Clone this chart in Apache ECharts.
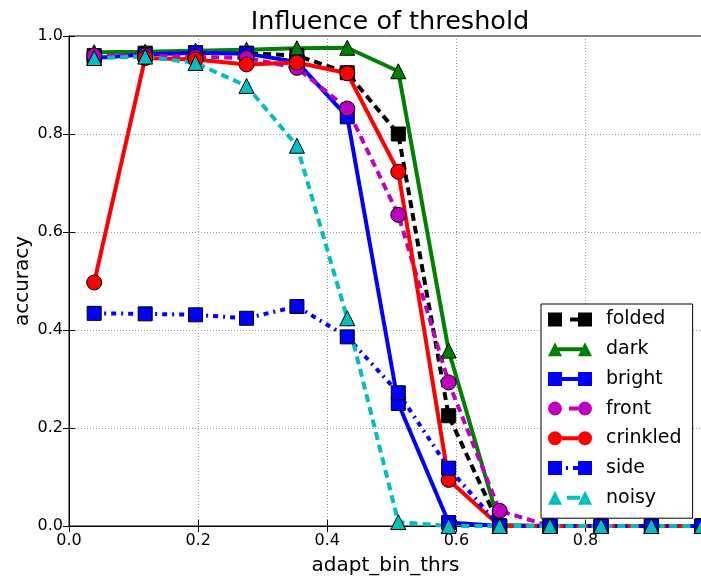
<!DOCTYPE html>
<html>
<head>
<meta charset="utf-8">
<script src="https://cdn.jsdelivr.net/npm/echarts@6/dist/echarts.min.js"></script>
<style>html,body{margin:0;padding:0;background:#fff;}#c{width:701px;height:576px;}</style>
</head>
<body>
<div id="c"></div>
<script>
const thresholds = [0.039, 0.118, 0.196, 0.275, 0.353, 0.431, 0.510, 0.588, 0.667, 0.745, 0.824, 0.902, 0.980];
const xTicks = [0.0, 0.2, 0.4, 0.6, 0.8];
const yTicks = [0.0, 0.2, 0.4, 0.6, 0.8, 1.0];
const folded   = [0.960, 0.965, 0.965, 0.965, 0.960, 0.925, 0.800, 0.225, 0.000, 0.000, 0.000, 0.000, 0.000];
const dark     = [0.967, 0.968, 0.970, 0.972, 0.975, 0.976, 0.928, 0.358, 0.002, 0.000, 0.000, 0.000, 0.000];
const bright   = [0.955, 0.962, 0.966, 0.964, 0.947, 0.835, 0.250, 0.007, 0.000, 0.000, 0.000, 0.000, 0.000];
const front    = [0.960, 0.960, 0.957, 0.955, 0.935, 0.852, 0.635, 0.293, 0.031, 0.000, 0.000, 0.000, 0.000];
const crinkled = [0.497, 0.955, 0.952, 0.942, 0.946, 0.924, 0.723, 0.094, 0.000, 0.000, 0.000, 0.000, 0.000];
const side     = [0.434, 0.433, 0.431, 0.424, 0.448, 0.386, 0.272, 0.118, 0.000, 0.000, 0.000, 0.000, 0.000];
const noisy    = [0.955, 0.958, 0.945, 0.898, 0.776, 0.424, 0.008, 0.000, 0.000, 0.000, 0.000, 0.000, 0.000];

// legend glyphs (marker - line - marker), 44x14 box
const SQ_L = 'M0,0h14v14h-14Z', SQ_R = 'M30,0h14v14h-14Z';
const TR_L = 'M0,14L7,0L14,14Z', TR_R = 'M30,14L37,0L44,14Z';
const CI_L = 'M0,7A7,7 0 1,1 14,7A7,7 0 1,1 0,7Z', CI_R = 'M30,7A7,7 0 1,1 44,7A7,7 0 1,1 30,7Z';
const SOLID = 'M14,5h16v4h-16Z';

const seriesDefs = [
  {name: 'folded',   data: folded,   color: '#000000', type: [8, 5],       symbol: 'rect',     icon: [SQ_L, 'M22,5h8v4h-8Z', SQ_R]},
  {name: 'dark',     data: dark,     color: '#008000', type: 'solid',      symbol: 'triangle', icon: [TR_L, 'M10,5h24v4h-24Z', TR_R]},
  {name: 'bright',   data: bright,   color: '#0000ff', type: 'solid',      symbol: 'rect',     icon: [SQ_L, SOLID, SQ_R]},
  {name: 'front',    data: front,    color: '#bf00bf', type: [8, 5],       symbol: 'circle',   icon: [CI_L, 'M21,5h9v4h-9Z', CI_R]},
  {name: 'crinkled', data: crinkled, color: '#ff0000', type: 'solid',      symbol: 'circle',   icon: [CI_L, SOLID, CI_R]},
  {name: 'side',     data: side,     color: '#0000ff', type: [5, 5, 2, 5], symbol: 'rect',     icon: [SQ_L, 'M18,5h2v4h-2Z', 'M25,5h5v4h-5Z', SQ_R]},
  {name: 'noisy',    data: noisy,    color: '#00bfbf', type: [8, 5],       symbol: 'triangle', icon: [TR_L, 'M19,5h13v4h-13Z', TR_R]}
];

const FONT = 'DejaVu Sans';
const chart = echarts.init(document.getElementById('c'), null, {renderer: 'canvas'});
const fmt = v => Number(v).toFixed(1);
const gridLine = {show: true, lineStyle: {color: '#999', type: [1, 2], width: 1}};

chart.setOption({
  animation: false,
  backgroundColor: '#fff',
  textStyle: {fontFamily: FONT},
  title: {
    text: 'Influence of threshold', left: 385, top: 4, textAlign: 'center',
    textStyle: {fontFamily: FONT, fontSize: 25.5, fontWeight: 'normal', color: '#000'}
  },
  grid: {left: 69, top: 36, width: 633, height: 490, outerBoundsMode: 'none', containLabel: false,
    show: true, borderColor: '#000', borderWidth: 1, backgroundColor: 'transparent'},
  legend: {
    orient: 'vertical', left: 541, top: 304,
    data: seriesDefs.map(s => ({name: s.name, icon: 'path://' + s.icon.join(' ')})),
    itemWidth: 44, itemHeight: 14, itemGap: 10.7,
    itemStyle: {borderWidth: 0},
    padding: [6, 11, 11, 7],
    backgroundColor: '#fff', borderColor: '#000', borderWidth: 1, borderRadius: 0,
    textStyle: {fontFamily: FONT, fontSize: 19, color: '#000', padding: [0, 0, 0, 9]}
  },
  xAxis: [{
    type: 'value', min: 0, max: 0.98039, interval: 0.2,
    name: 'adapt_bin_thrs', nameLocation: 'middle', nameGap: 30,
    nameTextStyle: {fontFamily: FONT, fontSize: 20, color: '#000'},
    axisLine: {show: true, lineStyle: {color: '#000', width: 1}},
    axisTick: {show: true, inside: true, length: 6, lineStyle: {color: '#000'}},
    axisLabel: {fontFamily: FONT, fontSize: 16, color: '#000', margin: 7, showMaxLabel: false,
      formatter: v => xTicks.some(t => Math.abs(t - v) < 1e-6) ? fmt(v) : ''},
    splitLine: gridLine
  }, {
    type: 'value', position: 'top', min: 0, max: 0.98039, interval: 0.2,
    axisLine: {show: true, lineStyle: {color: '#000'}},
    axisTick: {show: true, inside: true, length: 6, lineStyle: {color: '#000'}},
    axisLabel: {show: false}, splitLine: {show: false}
  }],
  yAxis: [{
    type: 'value', min: 0, max: 1, interval: 0.2,
    name: 'accuracy', nameLocation: 'middle', nameGap: 36, nameMoveOverlap: false,
    nameTextStyle: {fontFamily: FONT, fontSize: 20, color: '#000'},
    axisLine: {show: true, lineStyle: {color: '#000', width: 1}},
    axisTick: {show: true, inside: true, length: 6, lineStyle: {color: '#000'}},
    axisLabel: {fontFamily: FONT, fontSize: 16, color: '#000', margin: 6,
      formatter: v => yTicks.some(t => Math.abs(t - v) < 1e-6) ? fmt(v) : ''},
    splitLine: gridLine
  }, {
    type: 'value', position: 'right', min: 0, max: 1, interval: 0.2,
    axisLine: {show: true, lineStyle: {color: '#000'}},
    axisTick: {show: true, inside: true, length: 6, lineStyle: {color: '#000'}},
    axisLabel: {show: false}, splitLine: {show: false}
  }],
  series: seriesDefs.map(s => ({
    name: s.name, type: 'line', xAxisIndex: 0, yAxisIndex: 0,
    data: thresholds.map((x, i) => [x, s.data[i]]),
    symbol: s.symbol, symbolSize: s.symbol === 'rect' ? 14 : 15,
    showAllSymbol: true, clip: false,
    lineStyle: {color: s.color, width: 4, type: s.type},
    itemStyle: {color: s.color, borderColor: '#000', borderWidth: 1},
    emphasis: {disabled: true}
  }))
});
</script>
</body>
</html>
